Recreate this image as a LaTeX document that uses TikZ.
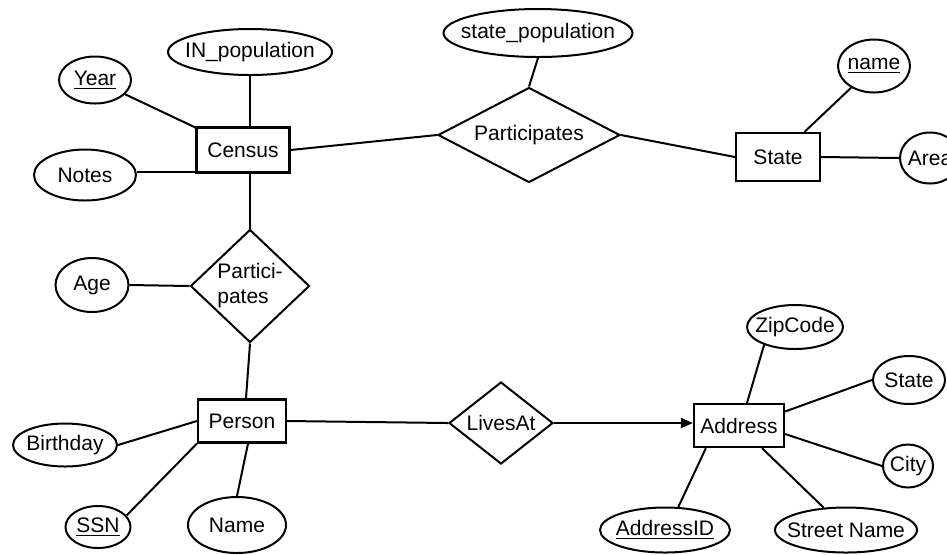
\documentclass[tikz,border=0pt]{standalone}
\usepackage{fontspec}
\setmainfont{Liberation Sans}
\usetikzlibrary{shapes.geometric}
\usetikzlibrary{arrows.meta}
\tikzset{
  entity/.style   = {draw, rectangle, inner sep=0pt, line width=1.1pt},
  relation/.style = {draw, diamond, inner sep=0pt, line width=1pt},
  attr/.style     = {draw, ellipse, inner sep=0pt, line width=1pt},
  link/.style     = {line width=1pt},
}

\begin{document}
\begin{tikzpicture}[x=0.5pt, y=-0.5pt, every node/.style={font=\fontsize{10.5}{12.5}\selectfont}]

\useasboundingbox (0,0) rectangle (947,554);
\clip (0,0) rectangle (947,554);

% ── Entities (boxes) ───────────────────────────────────────────
\foreach \nm/\xx/\yy/\w/\h/\txt in {%
    census/243/150/46.5pt/22.5pt/Census,
    state/778/157/42pt/24pt/State,
    person/242/421/44pt/21.5pt/Person,
    address/739/425.5/45pt/21.5pt/Address}{
  \node[entity, minimum width=\w, minimum height=\h] (\nm) at (\xx,\yy) {\txt};
}

% ── Relationships (diamonds) ──────────────────────────────────
\node[relation, aspect=1.9, minimum width=91pt, minimum height=47.5pt]
  (censuspart) at (529,135) {Participates};
\node[relation, align=left, minimum width=59.5pt, minimum height=56.5pt]
  (personpart) at (250,286) {Partici-\\pates};
\node[relation, aspect=1.25, minimum width=52pt, minimum height=41pt]
  (livesat) at (501,423) {LivesAt};

% ── Attributes (ellipses); keys underlined ────────────────────
\foreach \nm/\xx/\yy/\w/\h/\txt in {%
    year/95/80/36pt/23.5pt/\underline{Year},
    inpop/250/52/82pt/23pt/IN\_population,
    notes/85/175/51pt/25.5pt/Notes,
    statepop/538/33/94.5pt/24pt/state\_population,
    stname/874/66/36pt/26.5pt/\underline{name},
    area/930/158/30pt/25.5pt/Area,
    age/92/285/36.5pt/27pt/Age,
    birthday/65/445/52pt/21.5pt/Birthday,
    ssn/98/527/32.5pt/21pt/\underline{SSN},
    pname/237/525/49pt/28pt/Name,
    zip/795/327/48pt/22pt/ZipCode,
    adstate/909/380/36pt/24pt/State,
    city/908/466/25pt/21.5pt/City,
    addrid/665/530/65pt/22.5pt/\underline{AddressID},
    street/846/530/71pt/22.5pt/Street Name}{
  \node[attr, minimum width=\w, minimum height=\h] (\nm) at (\xx,\yy) {\makebox[0pt]{\txt}};
}

% ── Census ────────────────────────────────────────────────────
\draw[link] (year) -- (census);
\draw[link] (inpop.south) -- (inpop.south |- census.north);
\draw[link] ([yshift=1pt]census.south west) -- ([yshift=1pt]census.south west -| notes.east);
\draw[link] (census.east) -- (censuspart.west);
\draw[link] (personpart.north) -- (personpart.north |- census.south);

% ── State ─────────────────────────────────────────────────────
\draw[link] (statepop.south) -- (censuspart.north);
\draw[link] (censuspart.east) -- (state.west);
\draw[link] (stname) -- (state);
\draw[link] (state.east) -- (area.west);

% ── Person ────────────────────────────────────────────────────
\draw[link] (age.east) -- (personpart.west);
\draw[link] (personpart.south) -- ([xshift=2pt]person.north);
\draw[link] (birthday.east) -- (person.west);
\draw[link] (ssn.22) -- (person.south west);
\draw[link] (pname.north) -- ([xshift=3pt]person.south);
\draw[link] (person.east) -- (livesat.west);

% ── Address ───────────────────────────────────────────────────
\draw[link, -{Triangle[length=6pt,width=5pt]}] (livesat.east) -- (livesat.east -| address.west);
\draw[link] (zip.210) -- ([xshift=4pt]address.north);
\draw[link] (adstate.west) -- ([yshift=7pt]address.east);
\draw[link] (city.west) -- ([yshift=-4.25pt]address.east);
\draw[link] (addrid.60) -- ([xshift=6.5pt]address.south west);
\draw[link] (street.135) -- ([xshift=11.5pt]address.south);

\end{tikzpicture}
\end{document}
